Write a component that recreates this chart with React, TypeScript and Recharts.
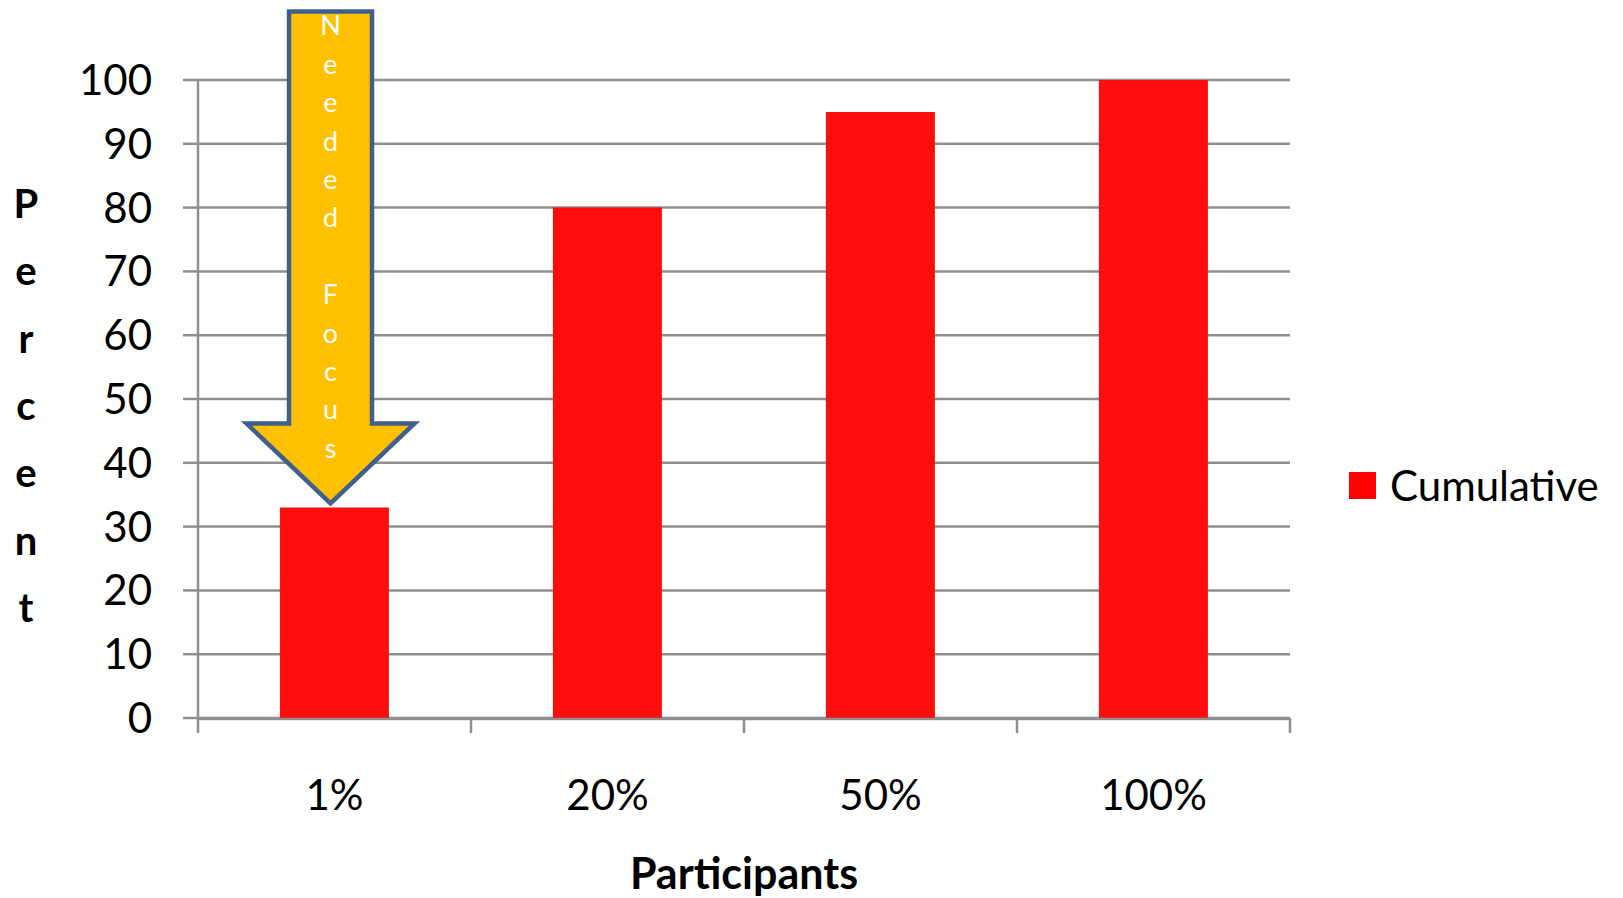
import React from 'react';
import { BarChart, Bar, XAxis, YAxis, CartesianGrid, Legend, ReferenceDot } from 'recharts';

const categories = ['1%', '20%', '50%', '100%'];
const cumulative = [33, 80, 95, 100];
const yTicks = [0, 10, 20, 30, 40, 50, 60, 70, 80, 90, 100];
const boundaryTicks = [0, 1, 2, 3, 4];
const seriesName = 'Cumulative';
const yAxisTitle = 'Percent';
const xAxisTitle = 'Participants';
const annotationText = 'Needed Focus';
const annotationCategory = '1%';
const annotationValue = 33;

const data = categories.map((c, i) => ({ category: c, cumulative: cumulative[i], pos: i + 0.5 }));

const FONT = 'Lato, "Open Sans", sans-serif';
const GRID = '#8F8F8F';
const BAR = '#FF0D0D';

const YTitle = (props: any) => {
  const vb = props.viewBox || { x: 0, y: 80, width: 198, height: 638 };
  const letters = yAxisTitle.split('');
  return (
    <text fontFamily={FONT} fontWeight={700} fontSize={40} fill="#000" textAnchor="middle">
      {letters.map((ch, i) => (
        <tspan key={i} x={26} y={vb.y + 138 + i * 67.3}>{ch}</tspan>
      ))}
    </text>
  );
};

const XTitle = (props: any) => {
  const vb = props.viewBox || { x: 198, y: 718, width: 1092, height: 150 };
  return (
    <text x={vb.x + vb.width / 2} y={vb.y + 170} fontFamily={FONT} fontWeight={700} fontSize={43} fill="#000" textAnchor="middle">
      {xAxisTitle}
    </text>
  );
};

const EmptyTick = () => <g />;

const ArrowShape = (props: any) => {
  const { cy } = props;
  if (props.cx == null || cy == null) return null;
  const cx = props.cx - 4;
  const tipY = cy - 4;
  const top = tipY - 492;
  const headY = tipY - 80;
  const sh = 41.5;
  const wh = 84;
  const d = `M ${cx - sh} ${top} L ${cx + sh} ${top} L ${cx + sh} ${headY} L ${cx + wh} ${headY} L ${cx} ${tipY} L ${cx - wh} ${headY} L ${cx - sh} ${headY} Z`;
  const chars = annotationText.split('');
  const spacing = 38.4;
  return (
    <g>
      <path d={d} fill="#FFC000" stroke="#3F5F8C" strokeWidth={4.5} strokeLinejoin="miter" />
      <text fontFamily={FONT} fontSize={27} fill="#FFFFFF" textAnchor="middle">
        {chars.map((ch, i) =>
          ch === ' ' ? null : (
            <tspan key={i} x={cx} y={tipY - 468 + i * spacing}>{ch}</tspan>
          )
        )}
      </text>
    </g>
  );
};

const LegendContent = (props: any) => {
  const payload = props.payload || [];
  return (
    <div>
      {payload.map((p: any, i: number) => (
        <div key={i} style={{ display: 'flex', alignItems: 'center', height: 34 }}>
          <div style={{ width: 27, height: 27, background: '#FF0000', marginRight: 14 }} />
          <span style={{ fontFamily: FONT, fontSize: 42, color: '#000', lineHeight: '34px' }}>{p.value}</span>
        </div>
      ))}
    </div>
  );
};

export default function App() {
  return (
    <div style={{ position: 'absolute', left: 0, top: 0, width: 1623, height: 898, background: '#fff' }}>
      <BarChart
        width={1623}
        height={898}
        data={data}
        margin={{ top: 80, right: 333, bottom: 29, left: 0 }}
        barCategoryGap="30%"
      >
        <CartesianGrid vertical={false} stroke={GRID} strokeWidth={2.5} />
        <XAxis
          xAxisId="aTicks"
          type="number"
          dataKey="pos"
          domain={[0, 4]}
          ticks={boundaryTicks}
          tick={<EmptyTick />}
          tickSize={15}
          tickLine={{ stroke: GRID, strokeWidth: 2.5 }}
          axisLine={false}
          height={1}
        />
        <XAxis
          xAxisId="cat"
          dataKey="category"
          height={150}
          tickLine={false}
          tickSize={0}
          tickMargin={61}
          axisLine={{ stroke: GRID, strokeWidth: 2.5 }}
          tick={{ fontFamily: FONT, fontSize: 42, fill: '#000' }}
          label={{ content: <XTitle /> }}
        />
        <YAxis
          domain={[0, 100]}
          ticks={yTicks}
          width={198}
          tickSize={15}
          tickMargin={31}
          interval={0}
          tickLine={{ stroke: GRID, strokeWidth: 2.5 }}
          axisLine={{ stroke: GRID, strokeWidth: 2.5 }}
          tick={{ fontFamily: FONT, fontSize: 42, fill: '#000' }}
          label={{ content: <YTitle /> }}
        />
        <Bar xAxisId="cat" dataKey="cumulative" name={seriesName} fill={BAR} isAnimationActive={false} />
        <ReferenceDot
          xAxisId="cat"
          x={annotationCategory}
          y={annotationValue}
          ifOverflow="visible"
          shape={<ArrowShape />}
        />
        <Legend
          layout="horizontal"
          verticalAlign="middle"
          align="center"
          content={<LegendContent />}
          wrapperStyle={{ position: 'absolute', left: 1349, top: 468, width: 274, bottom: 'auto', right: 'auto' }}
        />
      </BarChart>
    </div>
  );
}
